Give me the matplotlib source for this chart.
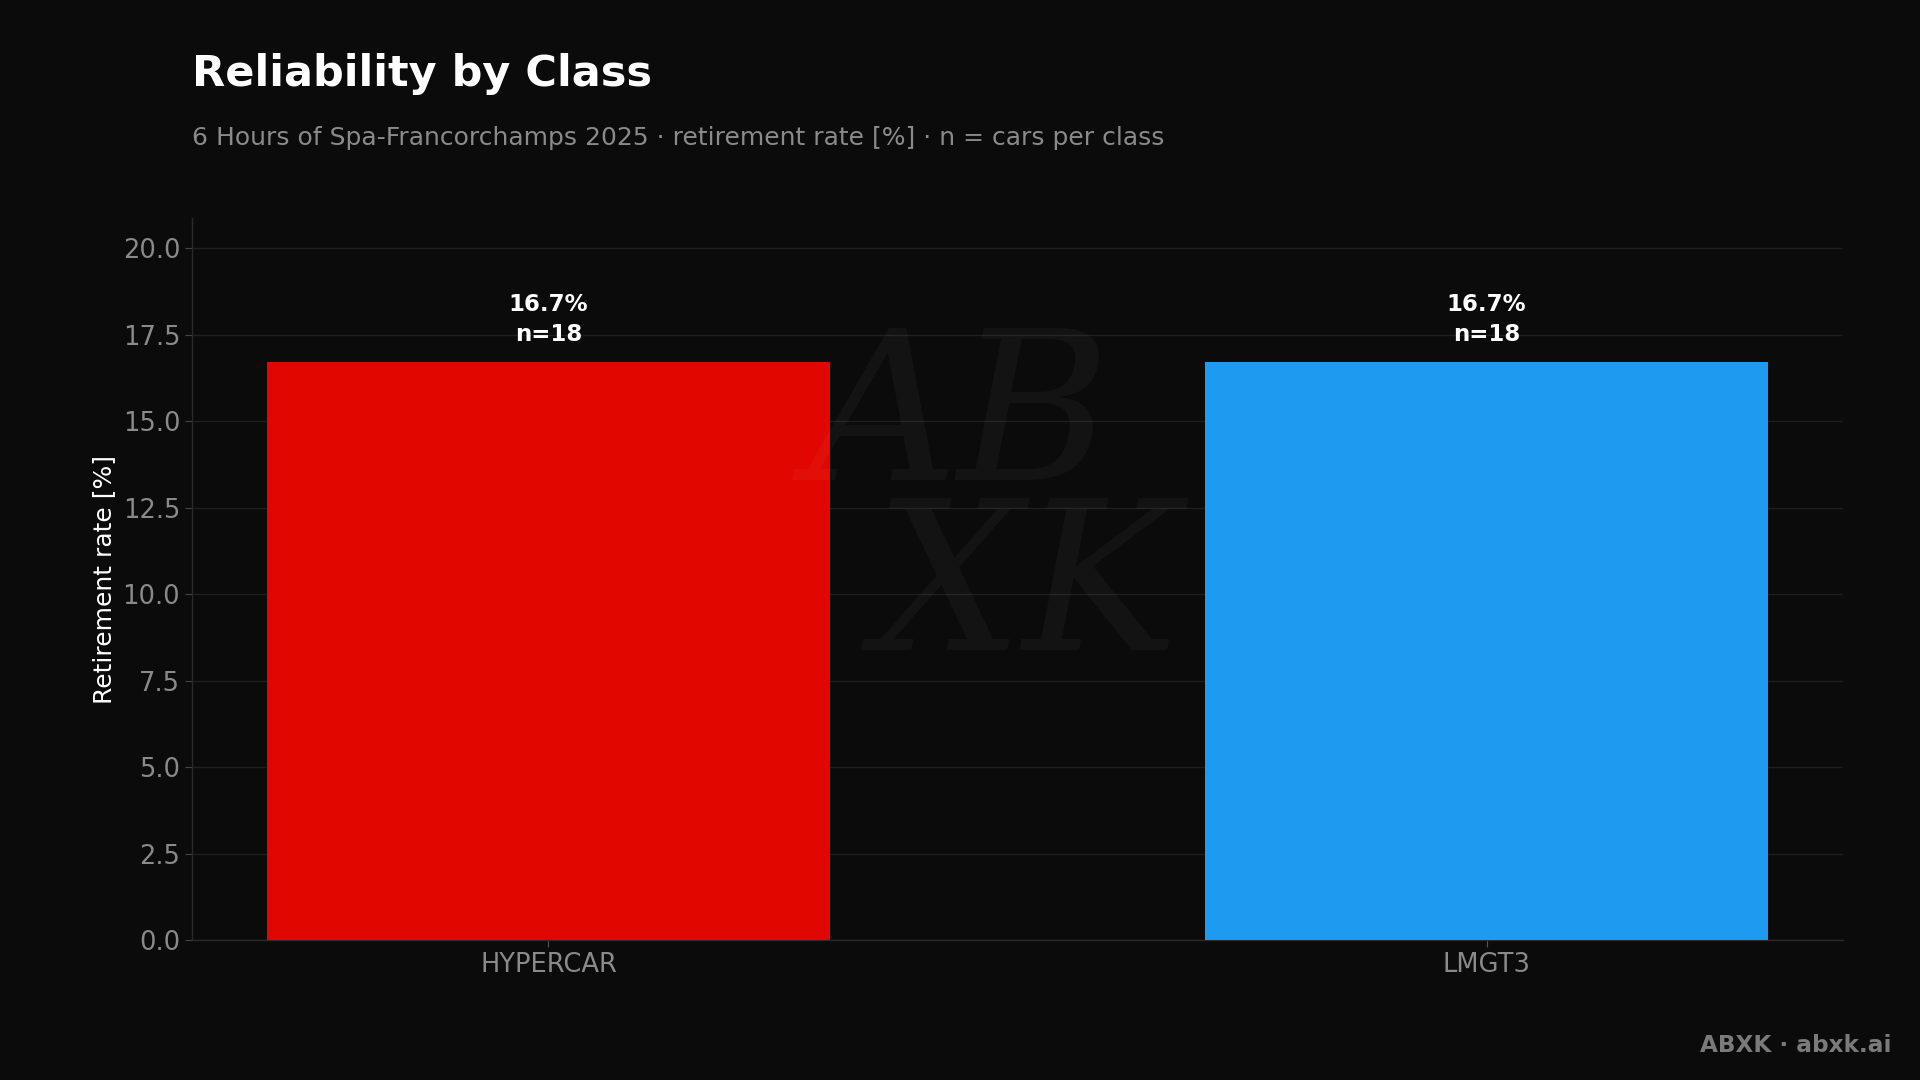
import numpy as np
import matplotlib
matplotlib.use('Agg')
import matplotlib.pyplot as plt

# Data
classes = ['HYPERCAR', 'LMGT3']
retire_rate = [16.7, 16.7]
n_cars = [18, 18]
bar_colors = ['#E10600', '#1E9BF0']

bg = '#0b0b0b'

fig = plt.figure(figsize=(19.2, 10.8), dpi=100, facecolor=bg)
ax = fig.add_axes([192/1920, 1 - 940/1080, (1843 - 192)/1920, (940 - 218)/1080])
ax.set_facecolor(bg)

x = np.arange(len(classes))
bars = ax.bar(x, retire_rate, width=0.6, color=bar_colors, zorder=3)

# value labels above bars
for xi, v, n in zip(x, retire_rate, n_cars):
    ax.annotate(f'{v:.1f}%\nn={n}', (xi, v), xytext=(0, 12), textcoords='offset points',
                ha='center', va='bottom', color='white', fontsize=16.5, fontweight='bold',
                linespacing=1.4, zorder=4)

ax.set_xlim(-0.38, 1.38)
ax.set_ylim(0, max(retire_rate) * 1.25)
ax.set_yticks(np.arange(0, 20.1, 2.5))
ax.set_yticklabels([f'{t:.1f}' for t in np.arange(0, 20.1, 2.5)])
ax.set_xticks(x)
ax.set_xticklabels(classes)

ax.tick_params(axis='both', colors='#8a8a8a', labelsize=18.5, length=5, width=0.8)
ax.tick_params(axis='x', color='#555555')
ax.tick_params(axis='y', color='#444444')
ax.set_ylabel('Retirement rate [%]', color='white', fontsize=18, labelpad=5)

ax.grid(axis='y', color='#1f1f1f', linewidth=1, zorder=0)
for s in ['top', 'right']:
    ax.spines[s].set_visible(False)
for s in ['left', 'bottom']:
    ax.spines[s].set_color('#2a2a2a')
    ax.spines[s].set_linewidth(1)

# faint signature watermark
fig.text(0.50, 0.53, 'AB\n  XK', ha='center', va='center', fontsize=150,
         family='DejaVu Serif', fontstyle='italic', color='white', alpha=0.035,
         linespacing=0.8, zorder=5)

# titles
fig.text(192/1920, 1 - 74/1080, 'Reliability by Class', ha='left', va='center',
         fontsize=31, fontweight='bold', color='white')
fig.text(192/1920, 1 - 138/1080,
         '6 Hours of Spa-Francorchamps 2025 · retirement rate [%] · n = cars per class',
         ha='left', va='center', fontsize=18, color='#8a8a8a')

# footer
fig.text(1891/1920, 1 - 1045/1080, 'ABXK · abxk.ai', ha='right', va='center',
         fontsize=16.7, fontweight='bold', color='#7a7a7a')

fig.savefig('out.png', dpi=100, facecolor=bg)
